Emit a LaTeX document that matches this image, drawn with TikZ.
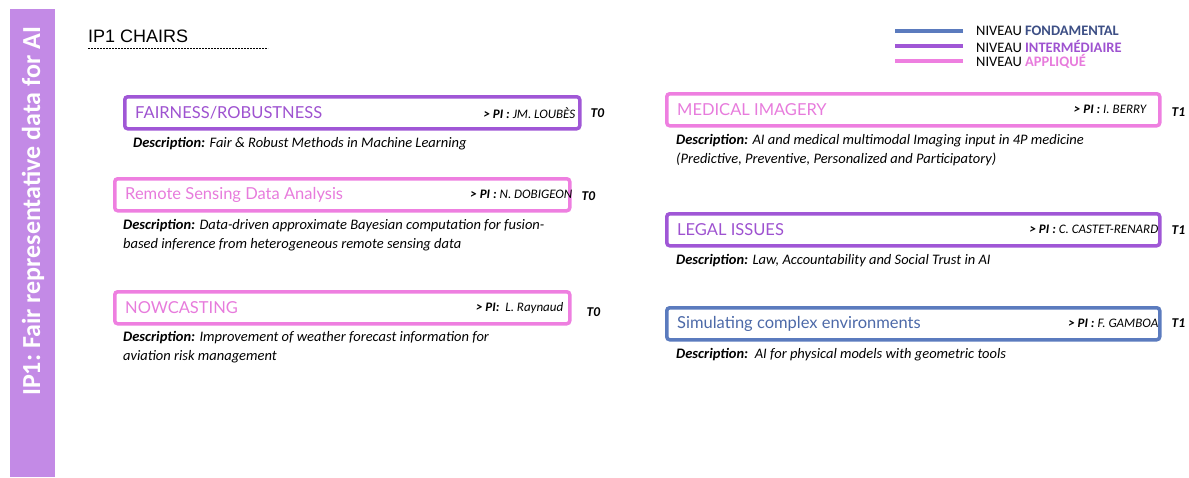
\documentclass[tikz,border=0pt]{standalone}
\usepackage{fontspec}
\setmainfont{Carlito}
\newfontfamily\titlefont{Lato}
\newfontfamily\arialfont{Liberation Sans}
\definecolor{sidebar}{HTML}{C38AE6}
\definecolor{cpurple}{HTML}{A057D6}
\definecolor{cpink}{HTML}{EE7FE0}
\definecolor{cblue}{HTML}{5B7BBE}
\definecolor{tpurple}{HTML}{9E52D0}
\definecolor{tpink}{HTML}{E77BDC}
\definecolor{tblue}{HTML}{4C69A8}
\definecolor{tdblue}{HTML}{3D4F85}
\tikzset{
  chairbox/.style={draw=#1, line width=3.5pt, rounded corners=3pt, anchor=north west, inner sep=0pt, minimum height=32pt},
  chairtitle/.style={anchor=west, inner sep=0pt, text=#1, font=\titlefont\fontsize{16.5}{19}\selectfont},
  pitext/.style={anchor=east, inner sep=0pt, font=\fontsize{13}{15}\selectfont\itshape},
  tlabel/.style={anchor=west, inner sep=0pt, font=\fontsize{13.5}{15}\selectfont\bfseries\itshape},
  desc/.style={anchor=north west, inner sep=0pt, align=left, font=\fontsize{14.5}{19}\selectfont\itshape},
  legline/.style={line width=4pt},
  legtext/.style={anchor=west, inner sep=0pt, font=\fontsize{14.5}{16}\selectfont}
}
\begin{document}
\begin{tikzpicture}[x=1pt,y=-1pt]
\useasboundingbox (0,0) rectangle (1189,477);
% sidebar
\node[fill=sidebar, minimum width=45pt, minimum height=468pt, anchor=north west, inner sep=0pt] (side) at (10,9) {};
\node[rotate=90, anchor=west, inner sep=0pt, text=white, font=\fontsize{26}{30}\selectfont\bfseries] (sidetext) at (33,396) {IP1:\ Fair representative data for AI};
% heading
\node[anchor=base west, inner sep=0pt, font=\arialfont\fontsize{18}{20}\selectfont] (head) at (88,42) {IP1 CHAIRS};
\draw[dashed, dash pattern=on 2pt off 1pt, line width=0.6pt] (head.south west)++(0,6) coordinate (dl) -- ++(180,0) coordinate (dr);
% legend
\node[legtext] (l1) at (976,31) {NIVEAU \textbf{\textcolor{tdblue}{FONDAMENTAL}}};
\node[legtext] (l2) at (976,46) {NIVEAU \textbf{\textcolor{tpurple}{INTERMÉDIAIRE}}};
\node[legtext] (l3) at (976,61) {NIVEAU \textbf{\textcolor{tpink}{APPLIQUÉ}}};
\draw[legline, cblue] ([xshift=-13pt]l1.west) -- ++(-68,0);
\draw[legline, cpurple] ([xshift=-13pt]l2.west) -- ++(-68,0);
\draw[legline, cpink] ([xshift=-13pt]l3.west) -- ++(-68,0);
% left column
\node[chairbox=cpurple, minimum width=455pt] (b1) at (123,95) {};
\node[chairtitle=tpurple] (b1t) at ([xshift=12pt]b1.west) {FAIRNESS/ROBUSTNESS};
\node[pitext] (b1p) at ([xshift=-6pt]b1.east) {\textbf{> PI :} JM. LOUBÈS};
\node[tlabel] (b1x) at ([xshift=9pt]b1.east) {T0};
\node[desc] (b1d) at ([xshift=10pt,yshift=-7pt]b1.south west) {\textbf{Description:} Fair \& Robust Methods in Machine Learning};

\node[chairbox=cpink, minimum width=455pt] (b2) at (113,177) {};
\node[chairtitle=tpink] (b2t) at ([xshift=12pt]b2.west) {Remote Sensing Data Analysis};
\node[pitext] (b2p) at ([xshift=1pt]b2.east) {\textbf{> PI :} N. DOBIGEON};
\node[tlabel] (b2x) at ([xshift=10pt,yshift=-1pt]b2.east) {T0};
\node[desc] (b2d) at ([xshift=10pt,yshift=-7pt]b2.south west) {\textbf{Description:} Data-driven approximate Bayesian computation for fusion-\\based inference from heterogeneous remote sensing data};

\node[chairbox=cpink, minimum width=455pt] (b3) at (113,290) {};
\node[chairtitle=tpink] (b3t) at ([xshift=12pt]b3.west) {NOWCASTING};
\node[pitext] (b3p) at ([xshift=-8pt]b3.east) {\textbf{> PI:}\ \ L. Raynaud};
\node[tlabel] (b3x) at ([xshift=15pt,yshift=-4pt]b3.east) {T0};
\node[desc] (b3d) at ([xshift=10pt,yshift=-6pt]b3.south west) {\textbf{Description:} Improvement of weather forecast information for\\aviation risk management};

% right column
\node[chairbox=cpink, minimum width=493pt] (b4) at (665,92) {};
\node[chairtitle=tpink] (b4t) at ([xshift=12pt]b4.west) {MEDICAL IMAGERY};
\node[pitext] (b4p) at ([xshift=-15pt]b4.east) {\textbf{> PI :} I. BERRY};
\node[tlabel] (b4x) at ([xshift=10pt,yshift=-2pt]b4.east) {T1};
\node[desc] (b4d) at ([xshift=11pt,yshift=-7pt]b4.south west) {\textbf{Description:} AI and medical multimodal Imaging input in 4P medicine\\(Predictive, Preventive, Personalized and Participatory)};

\node[chairbox=cpurple, minimum width=493pt] (b5) at (665,212) {};
\node[chairtitle=tpurple] (b5t) at ([xshift=12pt]b5.west) {LEGAL ISSUES};
\node[pitext] (b5p) at ([xshift=-3pt]b5.east) {\textbf{> PI :} C. CASTET-RENARD};
\node[tlabel] (b5x) at ([xshift=10pt]b5.east) {T1};
\node[desc] (b5d) at ([xshift=11pt,yshift=-7pt]b5.south west) {\textbf{Description:} Law, Accountability and Social Trust in AI};

\node[chairbox=cblue, minimum width=493pt] (b6) at (665,306) {};
\node[chairtitle=tblue] (b6t) at ([xshift=12pt]b6.west) {Simulating complex environments};
\node[pitext] (b6p) at ([xshift=-3pt]b6.east) {\textbf{> PI :} F. GAMBOA};
\node[tlabel] (b6x) at ([xshift=10pt,yshift=1pt]b6.east) {T1};
\node[desc] (b6d) at ([xshift=11pt,yshift=-7pt]b6.south west) {\textbf{Description:}\ \ AI for physical models with geometric tools};
\end{tikzpicture}
\end{document}
